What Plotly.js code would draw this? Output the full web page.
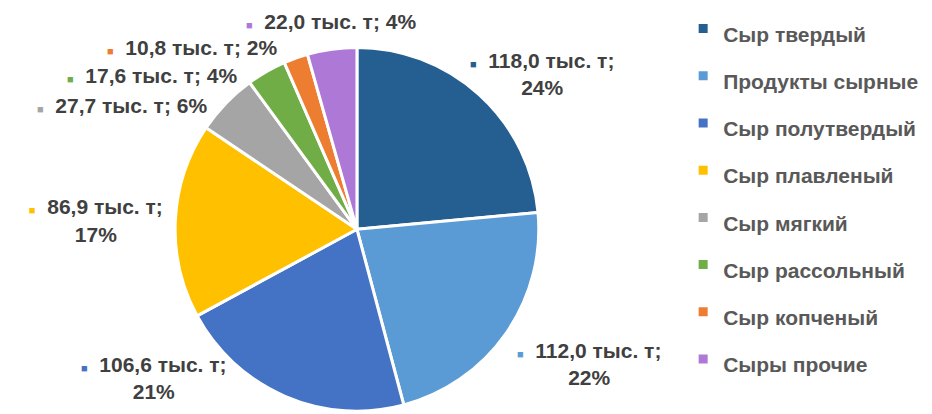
<!DOCTYPE html>
<html>
<head>
<meta charset="utf-8">
<script src="https://cdn.plot.ly/plotly-3.0.1.min.js"></script>
<style>
html,body{margin:0;padding:0;background:#fff;}
#chart{width:932px;height:414px;}
path.textline{stroke-opacity:0 !important;}
</style>
</head>
<body>
<div id="chart"></div>
<script>
const categories = ["Сыр твердый", "Продукты сырные", "Сыр полутвердый", "Сыр плавленый", "Сыр мягкий", "Сыр рассольный", "Сыр копченый", "Сыры прочие"];
const values = [118.0, 112.0, 106.6, 86.9, 27.7, 17.6, 10.8, 22.0];
const colors = ["#255E91", "#5B9BD5", "#4472C4", "#FFC000", "#A5A5A5", "#70AD47", "#ED7D31", "#AE78D6"];
const unit = "тыс. т";

const total = values.reduce((a, b) => a + b, 0);
const labelFont = {family: 'Liberation Sans, Arial, sans-serif', size: 21, color: '#404040', weight: 'bold'};
const sq = c => '<span style="color:' + c + ';font-size:11px">■</span>  ';
const twoLine = v => v / total > 0.1;

// labels that Plotly's automatic placement puts far from where the reference shows them:
// drawn as notes beside the pie instead (slice index -> note placement in paper fractions)
const notes = {
  0: {x: 0.582, y: 0.829},
  1: {x: 0.632, y: 0.121},
  2: {x: 0.165, y: 0.087},
  4: {x: 0.131, y: 0.752},
  5: {x: 0.163, y: 0.826},
  6: {x: 0.206, y: 0.894},
  7: {x: 0.355, y: 0.957}
};

const templates = values.map((v, i) => (i in notes) ? '' : (twoLine(v)
  ? sq('%{color}') + '%{value:.1f} ' + unit + ';<br>%{percent:.0%}'
  : sq('%{color}') + '%{value:.1f} ' + unit + '; %{percent:.0%}'));
const positions = values.map((v, i) => (i in notes) ? 'none' : 'outside');
const legendLabels = categories.map(c => '<span style="font-size:21px">' + c + '</span>');

const trace = {
  type: 'pie',
  labels: legendLabels,
  values: values,
  sort: false,
  direction: 'clockwise',
  rotation: 0,
  marker: {colors: colors, line: {color: '#ffffff', width: 3}},
  textposition: positions,
  texttemplate: templates,
  outsidetextfont: labelFont,
  domain: {x: [0.1845, 0.5815], y: [0.007, 0.894]},
  hoverinfo: 'none',
  automargin: false
};

const fmt = v => v.toFixed(1).replace('.', ',');
const annotations = Object.keys(notes).map(k => {
  const i = +k, v = values[i];
  const pct = Math.round(v / total * 100) + '%';
  return {
    xref: 'paper', yref: 'paper', x: notes[k].x, y: notes[k].y,
    xanchor: 'center', yanchor: 'middle', align: 'center', showarrow: false,
    text: sq(colors[i]) + fmt(v) + ' ' + unit + ';' + (twoLine(v) ? '<br>' : ' ') + pct,
    font: labelFont
  };
});

const layout = {
  width: 932, height: 414,
  margin: {l: 0, r: 0, t: 0, b: 0},
  separators: ', ',
  paper_bgcolor: '#ffffff',
  showlegend: true,
  legend: {
    x: 0.733, y: 1.01, xanchor: 'left', yanchor: 'top', maxheight: 1,
    font: {family: 'Liberation Sans, Arial, sans-serif', size: 34, color: '#595959', weight: 'bold'},
    bgcolor: 'rgba(0,0,0,0)'
  },
  annotations: annotations
};

Plotly.newPlot('chart', [trace], layout, {displayModeBar: false, staticPlot: true});
</script>
</body>
</html>
